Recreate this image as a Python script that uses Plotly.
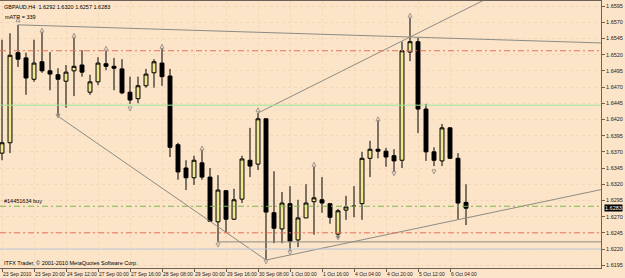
import plotly.graph_objects as go

# ---- data ----
bar_index = list(range(59))
opens = [1.6368, 1.6384, 1.6523, 1.6515, 1.6482, 1.6509, 1.6495, 1.6489, 1.6479, 1.6495,
         1.6504, 1.6462, 1.6478, 1.6506, 1.6502, 1.6498, 1.6462, 1.6452, 1.6472, 1.6492,
         1.6507, 1.6487, 1.6381, 1.6345, 1.6330, 1.6353, 1.6331, 1.6262, 1.6310, 1.6266,
         1.6297, 1.6357, 1.6351, 1.6421, 1.6276, 1.6251, 1.6290, 1.6234, 1.6268, 1.6293,
         1.6296, 1.6290, 1.6243, 1.6280, 1.6286, 1.6290, 1.6360, 1.6374, 1.6371, 1.6364,
         1.6357, 1.6524, 1.6540, 1.6436, 1.6370, 1.6356, 1.6407, 1.6360, 1.6292]
highs = [1.6543, 1.6553, 1.6566, 1.6523, 1.6543, 1.6555, 1.6524, 1.6499, 1.6504, 1.6546,
         1.6527, 1.6489, 1.6516, 1.6526, 1.6515, 1.6513, 1.6486, 1.6486, 1.6498, 1.6513,
         1.6530, 1.6498, 1.6384, 1.6357, 1.6364, 1.6373, 1.6345, 1.6334, 1.6311, 1.6313,
         1.6364, 1.6407, 1.6430, 1.6421, 1.6340, 1.6308, 1.6317, 1.6296, 1.6320, 1.6347,
         1.6331, 1.6290, 1.6282, 1.6302, 1.6317, 1.6370, 1.6387, 1.6419, 1.6376, 1.6374,
         1.6540, 1.6577, 1.6546, 1.6444, 1.6377, 1.6413, 1.6408, 1.6368, 1.6320]
lows = [1.6357, 1.6368, 1.6501, 1.6458, 1.6478, 1.6492, 1.6465, 1.6425, 1.6438, 1.6456,
        1.6486, 1.6458, 1.6473, 1.6496, 1.6465, 1.6459, 1.6444, 1.6445, 1.6469, 1.6469,
        1.6472, 1.6362, 1.6327, 1.6311, 1.6319, 1.6327, 1.6262, 1.6231, 1.6245, 1.6265,
        1.6291, 1.6331, 1.6342, 1.6203, 1.6229, 1.6229, 1.6217, 1.6223, 1.6268, 1.6242,
        1.6276, 1.6259, 1.6237, 1.6265, 1.6269, 1.6265, 1.6331, 1.6360, 1.6347, 1.6339,
        1.6345, 1.6510, 1.6399, 1.6356, 1.6348, 1.6348, 1.6359, 1.6266, 1.6257]
closes = [1.6384, 1.6519, 1.6513, 1.6484, 1.6507, 1.6495, 1.6490, 1.6482, 1.6493, 1.6502,
          1.6493, 1.6478, 1.6507, 1.6502, 1.6499, 1.6461, 1.6450, 1.6472, 1.6490, 1.6509,
          1.6486, 1.6377, 1.6339, 1.6330, 1.6357, 1.6331, 1.6263, 1.6311, 1.6266, 1.6296,
          1.6359, 1.6348, 1.6421, 1.6277, 1.6252, 1.6291, 1.6232, 1.6268, 1.6291, 1.6299,
          1.6291, 1.6269, 1.6279, 1.6285, 1.6286, 1.6360, 1.6374, 1.6371, 1.6362, 1.6356,
          1.6526, 1.6540, 1.6436, 1.6370, 1.6357, 1.6407, 1.6360, 1.6291, 1.6283]

x_tick_bars = [0, 4, 8, 12, 16, 20, 24, 28, 32, 36, 40, 44, 48, 52, 56]
x_tick_labels = ["23 Sep 2010", "23 Sep 20:00", "24 Sep 12:00", "27 Sep 00:00", "27 Sep 16:00",
                 "28 Sep 08:00", "29 Sep 00:00", "29 Sep 16:00", "30 Sep 08:00", "1 Oct 00:00",
                 "1 Oct 16:00", "4 Oct 04:00", "4 Oct 20:00", "5 Oct 12:00", "6 Oct 04:00"]
y_ticks = [1.6595, 1.6570, 1.6545, 1.6520, 1.6495, 1.6470, 1.6445, 1.6420, 1.6395,
           1.6370, 1.6345, 1.6320, 1.6295, 1.6270, 1.6245, 1.6220, 1.6195]

frac_up_bars = [2, 5, 9, 13, 20, 25, 32, 39, 47, 51]
frac_up_prices = [1.6577, 1.6561, 1.6553, 1.6533, 1.6536, 1.6379, 1.6438, 1.6354, 1.6424, 1.6584]
frac_dn_bars = [7, 16, 27, 33, 36, 42, 49, 54]
frac_dn_prices = [1.6422, 1.6433, 1.6223, 1.6197, 1.6211, 1.6234, 1.6333, 1.6336]

trend_top_x, trend_top_y = [2, 75], [1.6566, 1.6538]
trend_up_x, trend_up_y = [32, 62], [1.6430, 1.6615]
trend_down_x, trend_down_y = [7, 33], [1.6425, 1.6203]
trend_low_x, trend_low_y = [33, 75], [1.6203, 1.6312]

red_levels = [1.6526, 1.6245]
green_level = 1.6442
order_level = 1.6286
gray_level, gray_start = 1.6231, 27
blue_level = 1.6220
last_price = 1.6283

title_text = "GBPAUD,H4  1.6292 1.6320 1.6257 1.6283"
atr_text = "mATR = 339"
order_text = "#14451634 buy"
copyright_text = "ITFX Trader, \u00a9 2001-2010 MetaQuotes Software Corp."

# ---- figure ----
BG = "#FCE4C8"
FONT = "Liberation Sans"
FS = 5.5
XFS = 5.0
XMIN, XMAX = -0.25, 74.875
YMIN, YMAX = 1.61907, 1.66028

fig = go.Figure()

# horizontal levels
for lv in red_levels:
    fig.add_shape(type="line", xref="paper", x0=0, x1=1, y0=lv, y1=lv,
                  line=dict(color="#E8705A", width=1, dash="6px,3px,2px,3px"))
fig.add_shape(type="line", xref="paper", x0=0, x1=1, y0=green_level, y1=green_level,
              line=dict(color="#9EE89A", width=1))
fig.add_shape(type="line", xref="paper", x0=0, x1=1, y0=order_level, y1=order_level,
              line=dict(color="#7DB84A", width=1, dash="6px,3px,2px,3px"))
fig.add_shape(type="line", x0=gray_start, x1=XMAX, y0=gray_level, y1=gray_level,
              line=dict(color="#8C8C84", width=1))
fig.add_shape(type="line", xref="paper", x0=0, x1=1, y0=blue_level, y1=blue_level,
              line=dict(color="#BCC8DC", width=1))

# trend lines
for tx, ty in [(trend_top_x, trend_top_y), (trend_up_x, trend_up_y),
               (trend_down_x, trend_down_y), (trend_low_x, trend_low_y)]:
    fig.add_trace(go.Scatter(x=tx, y=ty, mode="lines", line=dict(color="#8C8C84", width=1),
                             showlegend=False, hoverinfo="skip"))

# candles
fig.add_trace(go.Candlestick(
    x=bar_index, open=opens, high=highs, low=lows, close=closes,
    increasing=dict(line=dict(color="#000000", width=1), fillcolor="#F0E68C"),
    decreasing=dict(line=dict(color="#000000", width=1), fillcolor="#000000"),
    whiskerwidth=0, showlegend=False, hoverinfo="skip"))

# fractals
fig.add_trace(go.Scatter(x=frac_up_bars, y=frac_up_prices, mode="markers",
                         marker=dict(symbol="arrow-up-open", size=4, color="#A09890",
                                     line=dict(width=1, color="#A09890")),
                         showlegend=False, hoverinfo="skip"))
fig.add_trace(go.Scatter(x=frac_dn_bars, y=frac_dn_prices, mode="markers",
                         marker=dict(symbol="arrow-down-open", size=4, color="#A09890",
                                     line=dict(width=1, color="#A09890")),
                         showlegend=False, hoverinfo="skip"))

# x tick labels (left aligned like MT4)
for b, lab in zip(x_tick_bars, x_tick_labels):
    fig.add_annotation(x=b, y=0, xref="x", yref="paper", text=lab, showarrow=False,
                       xanchor="left", yanchor="top", xshift=-1, yshift=-1,
                       font=dict(family=FONT, size=XFS, color="#222222"))

# texts
fig.add_annotation(x=0, y=1, xref="paper", yref="paper", text=title_text, showarrow=False,
                   xanchor="left", yanchor="top", xshift=2, yshift=-1,
                   font=dict(family=FONT, size=FS, color="#000000"))
fig.add_annotation(x=0, y=1, xref="paper", yref="paper", text=atr_text, showarrow=False,
                   xanchor="left", yanchor="top", xshift=3, yshift=-11,
                   font=dict(family=FONT, size=FS, color="#000000"))
fig.add_annotation(x=0, y=order_level, xref="paper", yref="y", text=order_text, showarrow=False,
                   xanchor="left", yanchor="bottom", xshift=2, yshift=0,
                   font=dict(family=FONT, size=FS, color="#000000"))
fig.add_annotation(x=0, y=0, xref="paper", yref="paper", text=copyright_text, showarrow=False,
                   xanchor="left", yanchor="bottom", xshift=2, yshift=0,
                   font=dict(family=FONT, size=FS, color="#000000"))
fig.add_annotation(x=1, y=last_price, xref="paper", yref="y", text=f"{last_price:.4f}",
                   showarrow=False, xanchor="left", yanchor="middle", xshift=3,
                   bgcolor="#000000", borderpad=0,
                   font=dict(family=FONT, size=FS, color="#FFFFFF"))

fig.update_layout(
    width=625, height=278, margin=dict(l=0, r=24, t=1, b=10),
    paper_bgcolor=BG, plot_bgcolor=BG, showlegend=False,
    xaxis=dict(range=[XMIN, XMAX], rangeslider=dict(visible=False), tickvals=x_tick_bars,
               showticklabels=False, ticks="outside", ticklen=3, tickcolor="#6E6258",
               showgrid=True, gridcolor="#F2D8B8", griddash="dot", gridwidth=1,
               showline=True, linecolor="#6E6258", linewidth=1, mirror=True, zeroline=False,
               fixedrange=True),
    yaxis=dict(range=[YMIN, YMAX], side="right", tickvals=y_ticks, tickformat=".4f",
               ticks="outside", ticklen=3, tickcolor="#6E6258",
               tickfont=dict(family=FONT, size=FS, color="#222222"),
               showgrid=True, gridcolor="#F2D8B8", griddash="dot", gridwidth=1,
               showline=True, linecolor="#6E6258", linewidth=1, mirror=True, zeroline=False,
               fixedrange=True),
)

fig.write_html("out.html")
